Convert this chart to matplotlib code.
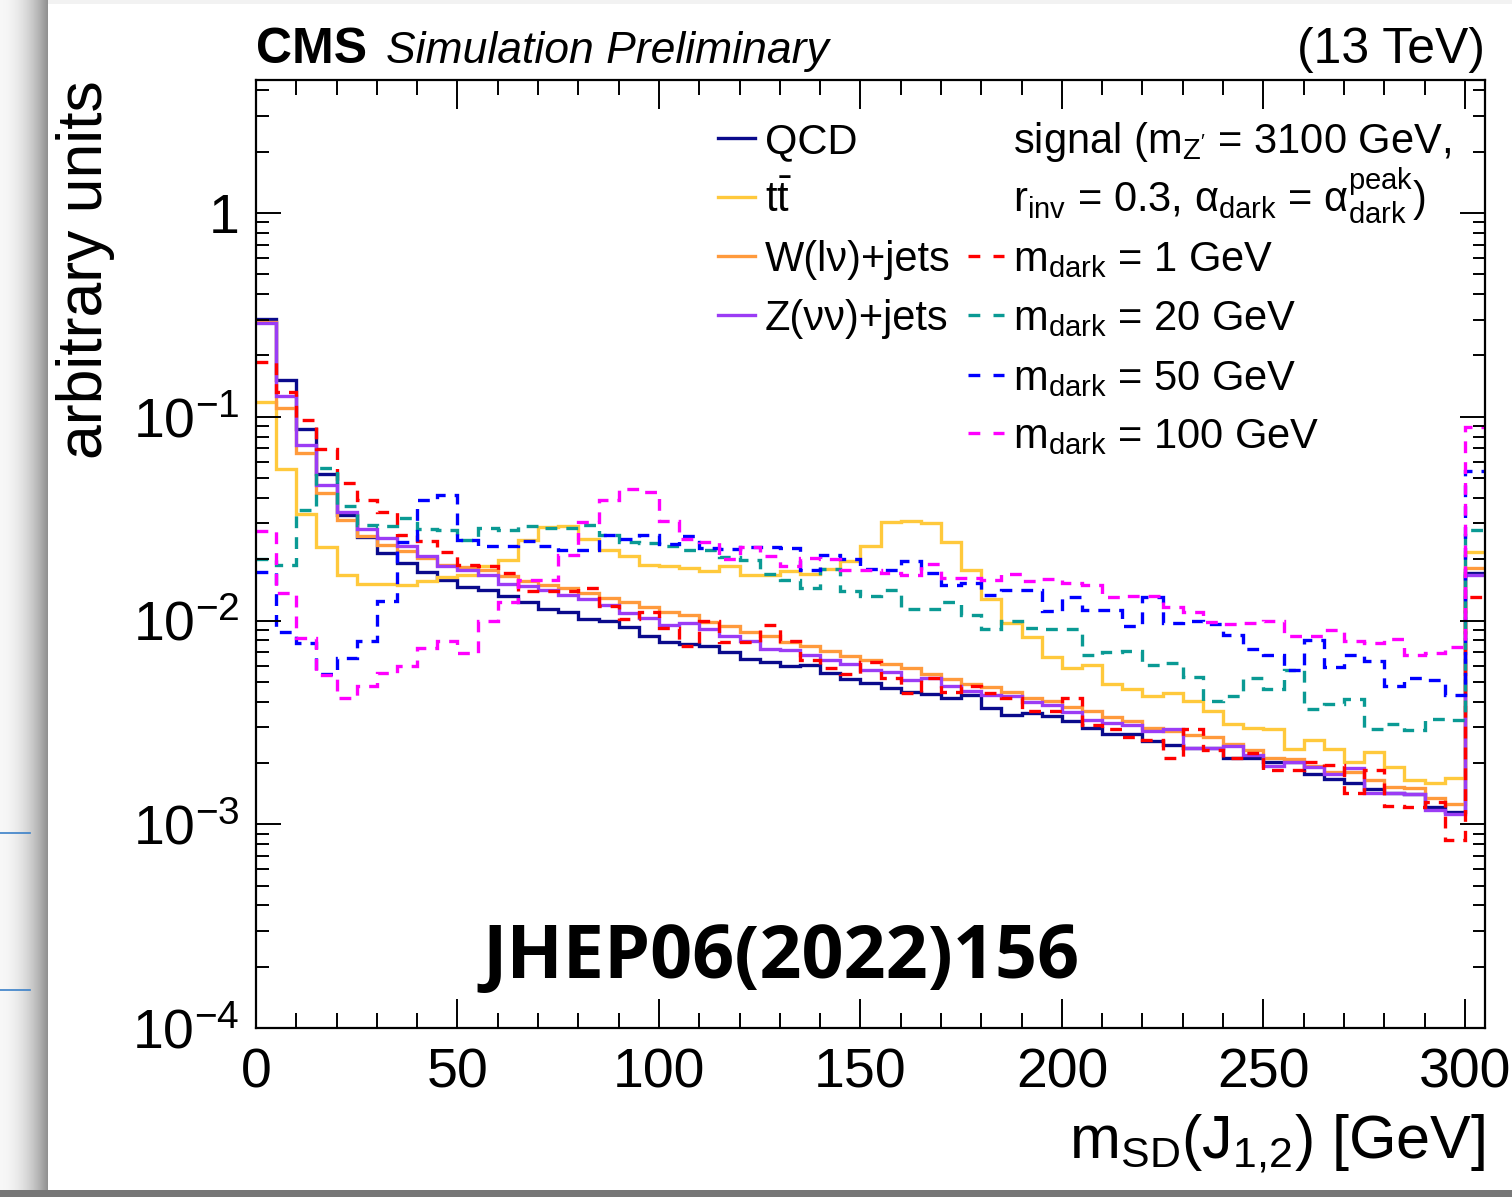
import numpy as np
import matplotlib
matplotlib.use("Agg")
import matplotlib.pyplot as plt
from matplotlib.ticker import MultipleLocator, LogLocator, FuncFormatter, NullFormatter

plt.rcParams['font.family'] = ['Liberation Sans', 'DejaVu Sans']
plt.rcParams['mathtext.fontset'] = 'custom'
plt.rcParams['mathtext.rm'] = 'Liberation Sans'
plt.rcParams['mathtext.it'] = 'Liberation Sans:italic'
plt.rcParams['mathtext.bf'] = 'Liberation Sans:bold'
plt.rcParams['mathtext.default'] = 'regular'
plt.rcParams['lines.scale_dashes'] = False

# 5 GeV bins from 0 to 300 GeV, last bin (300-305) is the overflow
edges = np.arange(0, 310, 5)

qcd = [0.301, 0.152, 0.087, 0.0524, 0.0331, 0.0256, 0.0215, 0.0192, 0.0173, 0.0158,
       0.0146, 0.0141, 0.0132, 0.0123, 0.0114, 0.0110, 0.0102, 0.0100, 0.00928, 0.00838,
       0.00783, 0.00771, 0.00754, 0.00702, 0.00651, 0.00625, 0.00598, 0.00607, 0.00550, 0.00514,
       0.00495, 0.00467, 0.00445, 0.00434, 0.00418, 0.00429, 0.00373, 0.00342, 0.00353, 0.00340,
       0.00321, 0.00296, 0.00278, 0.00278, 0.00256, 0.00245, 0.00238, 0.00236, 0.00212, 0.00212,
       0.00201, 0.00203, 0.00176, 0.00166, 0.00160, 0.00149, 0.00142, 0.00141, 0.00122, 0.00115,
       0.0172]
ttbar = [0.118, 0.0554, 0.0334, 0.0230, 0.0168, 0.0151, 0.0151, 0.0150, 0.0156, 0.0163,
         0.0168, 0.0185, 0.0199, 0.0249, 0.0288, 0.0292, 0.0251, 0.0223, 0.0207, 0.0188,
         0.0185, 0.0182, 0.0175, 0.0186, 0.0167, 0.0167, 0.0175, 0.0170, 0.0179, 0.0197,
         0.0231, 0.0303, 0.0307, 0.0300, 0.0242, 0.0177, 0.0128, 0.00975, 0.00828, 0.00664,
         0.00582, 0.00608, 0.00486, 0.00459, 0.00426, 0.00442, 0.00405, 0.00360, 0.00311, 0.00297,
         0.00295, 0.00235, 0.00259, 0.00235, 0.00201, 0.00226, 0.00192, 0.00164, 0.00159, 0.00169,
         0.0218]
wjets = [0.291, 0.110, 0.0664, 0.0423, 0.0313, 0.0261, 0.0236, 0.0219, 0.0203, 0.0188,
         0.0183, 0.0177, 0.0166, 0.0156, 0.0150, 0.0145, 0.0136, 0.0129, 0.0123, 0.0116,
         0.0110, 0.0106, 0.00985, 0.00938, 0.00877, 0.00838, 0.00783, 0.00748, 0.00708, 0.00669,
         0.00637, 0.00609, 0.00582, 0.00544, 0.00514, 0.00489, 0.00471, 0.00445, 0.00415, 0.00402,
         0.00377, 0.00360, 0.00337, 0.00321, 0.00298, 0.00287, 0.00273, 0.00268, 0.00249, 0.00231,
         0.00212, 0.00210, 0.00193, 0.00180, 0.00180, 0.00164, 0.00153, 0.00150, 0.00134, 0.00126,
         0.0181]
zjets = [0.288, 0.126, 0.0729, 0.0464, 0.0340, 0.0281, 0.0254, 0.0231, 0.0207, 0.0185,
         0.0178, 0.0168, 0.0151, 0.0148, 0.0141, 0.0133, 0.0127, 0.0119, 0.0109, 0.0103,
         0.00956, 0.00974, 0.00904, 0.00838, 0.00792, 0.00727, 0.00713, 0.00681, 0.00639, 0.00609,
         0.00571, 0.00560, 0.00508, 0.00520, 0.00477, 0.00450, 0.00429, 0.00426, 0.00398, 0.00383,
         0.00357, 0.00325, 0.00313, 0.00307, 0.00287, 0.00294, 0.00238, 0.00238, 0.00242, 0.00218,
         0.00193, 0.00203, 0.00190, 0.00176, 0.00188, 0.00142, 0.00142, 0.00141, 0.00118, 0.00112,
         0.0168]
sig_m1 = [0.185, 0.133, 0.0967, 0.0697, 0.0473, 0.0392, 0.0341, 0.0264, 0.0245, 0.0216,
          0.0187, 0.0186, 0.0171, 0.0140, 0.0140, 0.0139, 0.0145, 0.0118, 0.0102, 0.0110,
          0.0092, 0.00748, 0.0100, 0.00783, 0.00783, 0.0095, 0.00792, 0.0064, 0.00586, 0.00548,
          0.00627, 0.0052, 0.00442, 0.00525, 0.00448, 0.00477, 0.00442, 0.00418, 0.00360, 0.00360,
          0.00418, 0.00307, 0.00292, 0.00268, 0.00260, 0.00212, 0.00292, 0.00231, 0.00212, 0.00223,
          0.00185, 0.00185, 0.00201, 0.00196, 0.00143, 0.00185, 0.00123, 0.00121, 0.00128, 0.00084,
          0.0131]
sig_m20 = [0.0201, 0.0188, 0.0347, 0.0560, 0.0363, 0.0293, 0.0290, 0.0319, 0.0281, 0.0277,
           0.0248, 0.0284, 0.0279, 0.0292, 0.0285, 0.0285, 0.0296, 0.0264, 0.0242, 0.0240,
           0.0231, 0.0223, 0.0223, 0.0205, 0.0198, 0.0169, 0.0159, 0.0145, 0.0179, 0.0139,
           0.0132, 0.0142, 0.0114, 0.0114, 0.0123, 0.0106, 0.00904, 0.0100, 0.00917, 0.0091,
           0.00904, 0.00681, 0.0070, 0.00708, 0.00604, 0.0062, 0.0053, 0.00402, 0.00425, 0.0052,
           0.00459, 0.00575, 0.00366, 0.0039, 0.00414, 0.00294, 0.00312, 0.00290, 0.0033, 0.00326,
           0.0279]
sig_m50 = [0.0174, 0.00877, 0.00777, 0.00544, 0.00656, 0.00792, 0.0125, 0.0243, 0.039, 0.0415,
           0.0249, 0.0233, 0.0231, 0.0245, 0.0233, 0.0223, 0.0223, 0.0263, 0.0250, 0.0263,
           0.0238, 0.0261, 0.0227, 0.0225, 0.0230, 0.0230, 0.0227, 0.0177, 0.0210, 0.0201,
           0.0179, 0.0177, 0.0197, 0.0171, 0.0150, 0.0153, 0.0134, 0.0142, 0.0142, 0.0111,
           0.0131, 0.0113, 0.0113, 0.00938, 0.0130, 0.00975, 0.0099, 0.0096, 0.00854, 0.00721,
           0.00674, 0.00575, 0.00807, 0.0059, 0.00674, 0.0063, 0.00477, 0.0052, 0.00508, 0.00429,
           0.0544]
sig_m100 = [0.0276, 0.0137, 0.00823, 0.0054, 0.00418, 0.00477, 0.00554, 0.0060, 0.00734, 0.00792,
            0.00694, 0.0099, 0.0124, 0.0159, 0.0159, 0.0210, 0.0303, 0.0392, 0.0442, 0.0426,
            0.0307, 0.0251, 0.0242, 0.0201, 0.0229, 0.0207, 0.0185, 0.0203, 0.0200, 0.0178,
            0.0178, 0.0171, 0.0168, 0.0190, 0.0162, 0.0162, 0.0158, 0.0170, 0.0157, 0.0160,
            0.0152, 0.0150, 0.0131, 0.0132, 0.0132, 0.0116, 0.0110, 0.0098, 0.0096, 0.0097,
            0.0099, 0.00838, 0.0084, 0.0090, 0.00792, 0.0078, 0.0081, 0.00681, 0.0069, 0.0074,
            0.0896]

bkg_labels = ['QCD', r'$t\bar{t}$', 'W(lν)+jets', 'Z(νν)+jets']
sig_labels = [r'$m_{dark}$ = 1 GeV', r'$m_{dark}$ = 20 GeV',
              r'$m_{dark}$ = 50 GeV', r'$m_{dark}$ = 100 GeV']
sig_header = [r"signal ($m_{Z'}$ = 3100 GeV,",
              r"$r_{inv}$ = 0.3, $α_{dark}$ = $α^{peak}_{dark}$)"]

bkg_colors = ['#0a0a8c', '#ffc93c', '#ff9a3c', '#9b3cf5']
sig_colors = ['#ff0000', '#0a9a94', '#0000ff', '#ff00ff']

W, H = 1512, 1197
fig = plt.figure(figsize=(W / 100, H / 100), dpi=100)

# screenshot-like background: shadow on the left, dark band at the bottom
bg = np.ones((H, W, 3))
xs = np.arange(48)
bg[:, :48, :] = (0.97 - 0.40 * (xs / 47.0) ** 2)[None, :, None]
bg[:4, 48:, :] = 0.95
bg[1190:, :, :] = 0.47
bg_ax = fig.add_axes([0, 0, 1, 1], zorder=-10)
bg_ax.imshow(bg, extent=(0, W, H, 0), aspect='auto', interpolation='bilinear')
bg_ax.plot([0, 30], [833, 833], color='#3a80c8', lw=1.2)
bg_ax.plot([0, 30], [990, 990], color='#3a80c8', lw=1.2)
bg_ax.set_xlim(0, W)
bg_ax.set_ylim(H, 0)
bg_ax.axis('off')

ax = fig.add_axes([256 / W, 1 - 1028 / H, 1229 / W, 948 / H])

lw = 2.4
dash = (0, (8.5, 6.5))
for vals, col in zip([qcd, ttbar, wjets, zjets], bkg_colors):
    ax.stairs(vals, edges, color=col, lw=lw, baseline=None)
for vals, col in zip([sig_m1, sig_m20, sig_m50, sig_m100], sig_colors):
    ax.stairs(vals, edges, color=col, lw=lw, linestyle=dash, baseline=None)

ax.set_yscale('log')
ax.set_xlim(0, 305)
ax.set_ylim(1e-4, 4.5)

ax.xaxis.set_major_locator(MultipleLocator(50))
ax.xaxis.set_minor_locator(MultipleLocator(10))
ax.yaxis.set_major_locator(LogLocator(base=10, numticks=10))
ax.yaxis.set_minor_locator(LogLocator(base=10, subs=np.arange(2, 10), numticks=20))
ax.yaxis.set_minor_formatter(NullFormatter())


def log_label(v, pos):
    e = int(round(np.log10(v)))
    if e == 0:
        return '1'
    if e == 1:
        return '10'
    return r'$10^{%d}$' % e


ax.yaxis.set_major_formatter(FuncFormatter(log_label))

ax.tick_params(which='both', direction='in', top=True, right=True, width=1.4)
ax.tick_params(axis='x', which='major', length=21, labelsize=40, pad=14)
ax.tick_params(axis='x', which='minor', length=10.5)
ax.tick_params(axis='y', which='major', length=18, labelsize=40, pad=12)
ax.tick_params(axis='y', which='minor', length=9)
for sp in ax.spines.values():
    sp.set_linewidth(1.6)

ax.set_xlabel(r'$m_{SD}(J_{1{,}2})$ [GeV]', fontsize=44, loc='right', labelpad=10)
ax.set_ylabel('arbitrary units', fontsize=45, loc='top', labelpad=12)

ax.text(0, 1.018, 'CMS', transform=ax.transAxes, fontsize=36, fontweight='bold',
        va='baseline', ha='left')
ax.text(0.106, 1.018, 'Simulation Preliminary', transform=ax.transAxes, fontsize=32,
        style='italic', va='baseline', ha='left')
ax.text(1.0, 1.018, '(13 TeV)', transform=ax.transAxes, fontsize=36,
        va='baseline', ha='right')

# legend drawn by hand, two columns
rows = [0.923, 0.861, 0.7985, 0.736, 0.673, 0.612]
hoff = 0.016
fs_leg = 30
for i, (lab, col) in enumerate(zip(bkg_labels, bkg_colors)):
    ax.plot([0.376, 0.406], [rows[i] + hoff] * 2, color=col, lw=lw, transform=ax.transAxes)
    ax.text(0.414, rows[i], lab, transform=ax.transAxes, fontsize=fs_leg, va='baseline')
for i, lab in enumerate(sig_header):
    ax.text(0.616, rows[i], lab, transform=ax.transAxes, fontsize=fs_leg, va='baseline')
for i, (lab, col) in enumerate(zip(sig_labels, sig_colors)):
    r = rows[i + 2]
    ax.plot([0.579, 0.609], [r + hoff] * 2, color=col, lw=lw, linestyle=(0, (8.5, 9.5)),
            transform=ax.transAxes)
    ax.text(0.616, r, lab, transform=ax.transAxes, fontsize=fs_leg, va='baseline')

ax.text(0.427, 0.053, 'JHEP06(2022)156', transform=ax.transAxes, fontsize=53,
        fontweight='bold', family=['Open Sans', 'DejaVu Sans'], ha='center', va='baseline',
        zorder=10)

fig.savefig('out.png', dpi=100)
